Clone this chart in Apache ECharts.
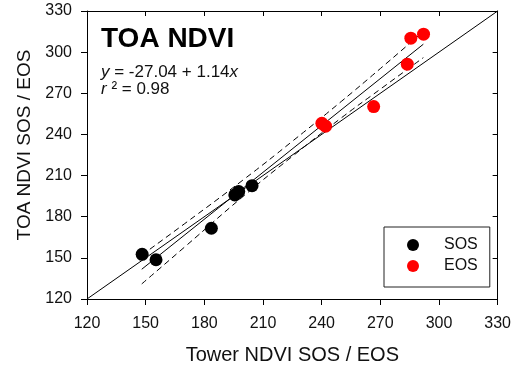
<!DOCTYPE html>
<html>
<head>
<meta charset="utf-8">
<script src="https://cdn.jsdelivr.net/npm/echarts@6/dist/echarts.min.js"></script>
<style>
  html, body { margin: 0; padding: 0; background: #fff; }
  #chart { width: 514px; height: 371px; }
</style>
</head>
<body>
<div id="chart"></div>
<script>
// tower vs TOA day-of-year values
const sosTower = [148.2, 155.3, 183.6, 195.6, 197.6, 204.4];
const sosToa = [152.6, 148.6, 171.6, 195.9, 198.3, 202.6];
const eosTower = [240.1, 242.0, 266.6, 283.8, 285.6, 292.1];
const eosToa = [248.1, 246.0, 260.3, 291.2, 310.2, 313.1];

// regression line end points and the 95% band
const regX = [148, 292];
const regY = [141.7, 305.8];
const bandX = [148, 170, 200, 225, 250, 270, 292];
const bandUpper = [152, 175, 207, 235, 264, 288, 315];
const bandLower = [131, 158, 195, 224, 252, 273, 296];

const ticks = [120, 150, 180, 210, 240, 270, 300, 330];
const font = "Liberation Sans, Arial, sans-serif";

const pairs = (xs, ys) => xs.map((x, i) => [x, ys[i]]);

const chart = echarts.init(document.getElementById("chart"));

const axisBase = {
  type: "value",
  min: ticks[0],
  max: ticks[ticks.length - 1],
  interval: 30,
  splitLine: { show: false },
  axisLine: { show: true, onZero: false, lineStyle: { color: "#000", width: 1 } }
};

const dashed = {
  type: "line",
  smooth: true,
  showSymbol: false,
  silent: true,
  lineStyle: { color: "#000", width: 1, type: [6, 4] }
};

const option = {
  animation: false,
  textStyle: { fontFamily: font },
  grid: { left: 87, right: 15, top: 11, bottom: 72 },
  xAxis: [
    {
      ...axisBase,
      position: "bottom",
      axisTick: { show: true, inside: false, length: 6, lineStyle: { color: "#000" } },
      axisLabel: { margin: 17, fontSize: 16, color: "#111", fontFamily: font },
      name: "Tower NDVI SOS / EOS",
      nameLocation: "middle",
      nameGap: 46,
      nameTextStyle: { fontSize: 20, color: "#111", fontFamily: font }
    },
    {
      ...axisBase,
      position: "top",
      axisTick: { show: true, inside: true, length: 5, lineStyle: { color: "#000" } },
      axisLabel: { show: false }
    }
  ],
  yAxis: [
    {
      ...axisBase,
      position: "left",
      axisTick: { show: true, inside: false, length: 6, lineStyle: { color: "#000" } },
      axisLabel: { margin: 15, fontSize: 16, color: "#111", fontFamily: font },
      name: "TOA NDVI SOS / EOS",
      nameLocation: "middle",
      nameGap: 52,
      nameTextStyle: { fontSize: 19, color: "#111", fontFamily: font, padding: [0, 0, 0, 20] }
    },
    {
      ...axisBase,
      position: "right",
      axisTick: { show: true, inside: true, length: 5, lineStyle: { color: "#000" } },
      axisLabel: { show: false }
    }
  ],
  legend: {
    data: ["SOS", "EOS"],
    orient: "vertical",
    left: 384,
    top: 227,
    padding: [10, 12, 13, 23],
    itemGap: 5,
    itemWidth: 12,
    itemHeight: 12,
    icon: "circle",
    borderColor: "#222",
    borderWidth: 1,
    textStyle: { fontSize: 16, color: "#111", fontFamily: font, padding: [0, 0, 0, 20] }
  },
  graphic: [
    {
      type: "text",
      left: 101,
      top: 25,
      style: { text: "TOA NDVI", font: "bold 28px " + font, fill: "#000" }
    },
    {
      type: "text",
      left: 101,
      top: 64,
      style: {
        text: "{i|y} = -27.04 + 1.14{i|x}\n{i|r} ² = 0.98",
        font: "17px " + font,
        fill: "#111",
        lineHeight: 17,
        rich: {
          i: { fontStyle: "italic", fontSize: 17, fontFamily: font, lineHeight: 17 }
        }
      }
    }
  ],
  series: [
    {
      type: "line",
      showSymbol: false,
      silent: true,
      data: [[120, 120], [330, 330]],
      lineStyle: { color: "#000", width: 1 }
    },
    {
      type: "line",
      showSymbol: false,
      silent: true,
      data: pairs(regX, regY),
      lineStyle: { color: "#000", width: 1 }
    },
    { ...dashed, data: pairs(bandX, bandUpper) },
    { ...dashed, data: pairs(bandX, bandLower) },
    {
      name: "SOS",
      type: "scatter",
      symbolSize: 13,
      z: 5,
      itemStyle: { color: "#000", opacity: 1 },
      data: pairs(sosTower, sosToa)
    },
    {
      name: "EOS",
      type: "scatter",
      symbolSize: 13,
      z: 5,
      itemStyle: { color: "#ff0000", opacity: 1 },
      data: pairs(eosTower, eosToa)
    }
  ]
};

chart.setOption(option);
</script>
</body>
</html>
